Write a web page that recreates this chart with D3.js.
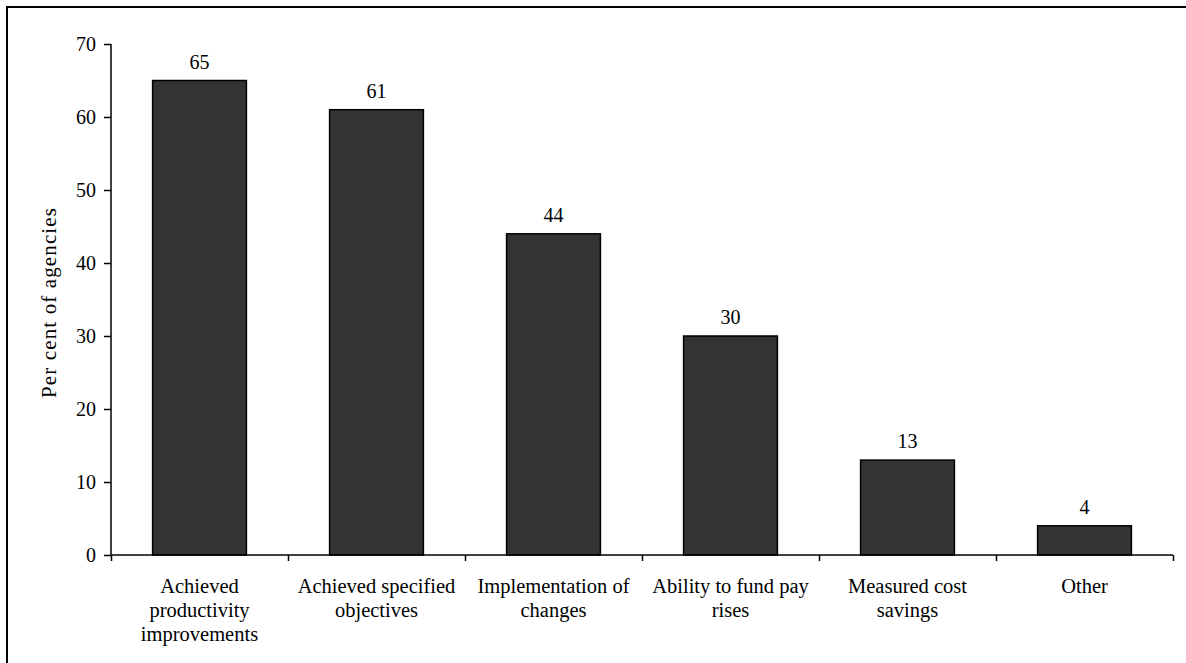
<!DOCTYPE html>
<html>
<head>
<meta charset="utf-8">
<script src="https://cdn.jsdelivr.net/npm/d3@7/dist/d3.min.js"></script>
<style>
html,body{margin:0;padding:0;background:#fff;}
svg{display:block;}
</style>
</head>
<body>
<svg id="chart" width="1186" height="663"></svg>
<script>
const categories = [
  ["Achieved", "productivity", "improvements"],
  ["Achieved specified", "objectives"],
  ["Implementation of", "changes"],
  ["Ability to fund pay", "rises"],
  ["Measured cost", "savings"],
  ["Other"]
];
const values = [65, 61, 44, 30, 13, 4];
const yTicks = [0, 10, 20, 30, 40, 50, 60, 70];
const yTitle = "Per cent of agencies";

(function () {
const FONT = "'Liberation Serif', 'Times New Roman', Times, serif";
const svg = d3.select("#chart");
const W = 1186, H = 663;
const mLeft = 111, mRight = 1173, mTop = 44, mBottom = 555;

// outer border (extends past right/bottom edges)
svg.append("rect").attr("x", 7).attr("y", 7).attr("width", W + 20).attr("height", H + 20)
  .attr("fill", "none").attr("stroke", "#000").attr("stroke-width", 2);

const x = d3.scaleBand().domain(d3.range(categories.length)).range([mLeft, mRight])
  .paddingInner(0.47).paddingOuter(0.235);
const xEdges = d3.scaleLinear().domain([0, categories.length]).range([mLeft, mRight]);
const y = d3.scaleLinear().domain([0, 70]).range([mBottom, mTop]);

// bars
svg.append("g").selectAll("rect").data(values).join("rect")
  .attr("x", (d, i) => x(i))
  .attr("y", d => y(d))
  .attr("width", x.bandwidth())
  .attr("height", d => y(0) - y(d))
  .attr("fill", "#333333")
  .attr("stroke", "#000")
  .attr("stroke-width", 1.5);

// value labels
svg.append("g").selectAll("text").data(values).join("text")
  .attr("x", (d, i) => x(i) + x.bandwidth() / 2)
  .attr("y", d => y(d) - 12)
  .attr("text-anchor", "middle")
  .attr("fill", "#000")
  .style("font-family", FONT)
  .style("font-size", "20px")
  .text(d => d);

// y axis
const yAxis = svg.append("g").attr("transform", `translate(${mLeft},0)`)
  .call(d3.axisLeft(y).tickValues(yTicks).tickSize(7).tickPadding(8).tickFormat(d3.format("d")));
yAxis.attr("font-family", null).attr("font-size", null);
yAxis.selectAll("path, line").attr("stroke", "#000").attr("stroke-width", 1.5);
yAxis.select(".domain").attr("d", `M0,${y(70)}V${y(0)}`);
yAxis.selectAll("text").style("font-size", "20px").style("font-family", FONT).attr("fill", "#000");

// x axis
const xAxis = svg.append("g").attr("transform", `translate(0,${mBottom})`)
  .call(d3.axisBottom(xEdges).tickValues(d3.range(categories.length + 1)).tickSize(6).tickFormat(""));
xAxis.selectAll("path, line").attr("stroke", "#000").attr("stroke-width", 1.5);
xAxis.select(".domain").attr("d", `M${mLeft},0H${mRight}`);

// category labels
const cat = svg.append("g").selectAll("text").data(categories).join("text")
  .attr("x", (d, i) => x(i) + x.bandwidth() / 2)
  .attr("y", 593)
  .attr("text-anchor", "middle")
  .attr("fill", "#000")
  .style("font-family", FONT)
  .style("font-size", "20.5px");
cat.selectAll("tspan").data(d => d).join("tspan")
  .attr("x", function () { return d3.select(this.parentNode).attr("x"); })
  .attr("dy", (d, i) => i === 0 ? 0 : 24)
  .text(d => d);

// y title
svg.append("text")
  .attr("transform", `translate(56,303) rotate(-90)`)
  .attr("text-anchor", "middle")
  .attr("fill", "#000")
  .style("font-family", FONT)
  .style("font-size", "21px")
  .attr("textLength", 190)
  .attr("lengthAdjust", "spacing")
  .text(yTitle);
})();
</script>
</body>
</html>
